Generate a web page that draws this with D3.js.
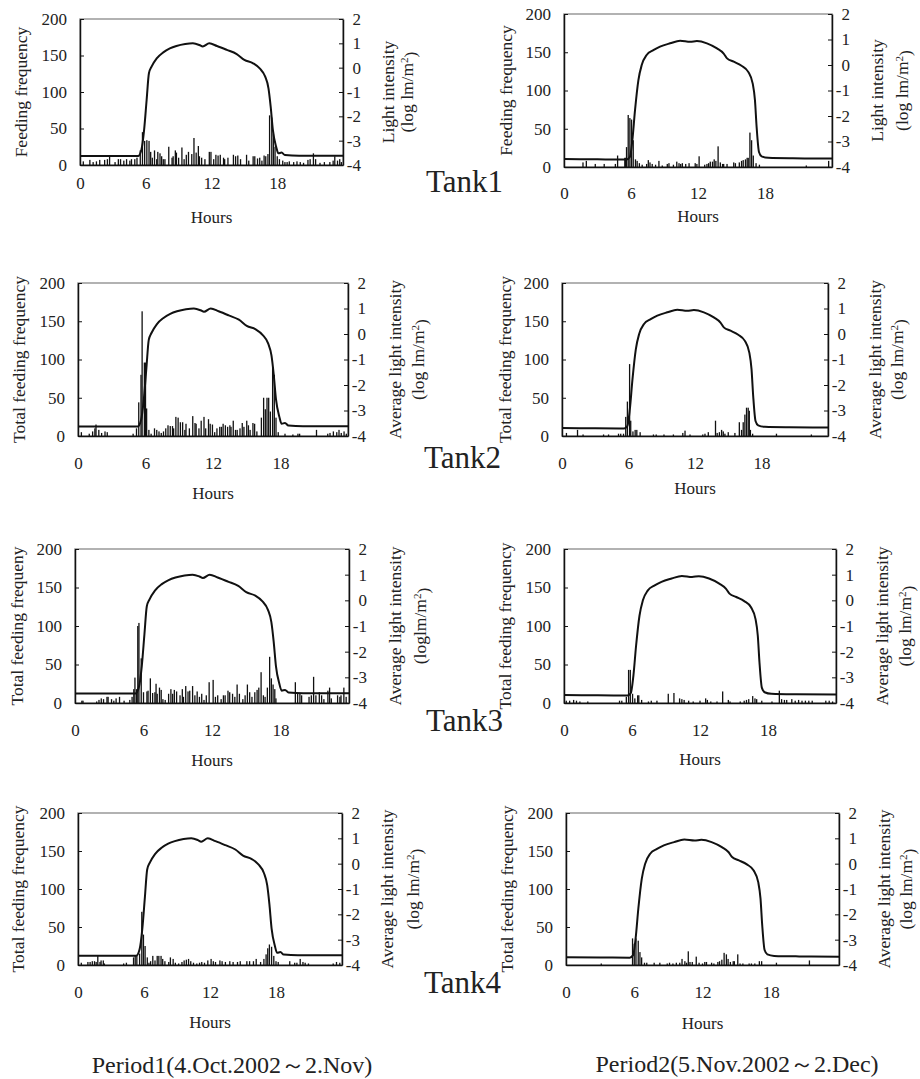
<!DOCTYPE html>
<html>
<head>
<meta charset="utf-8">
<script src="https://cdnjs.cloudflare.com/ajax/libs/d3/7.8.5/d3.min.js"></script>
<style>
body{margin:0;background:#fff;}
text{font-family:"Liberation Serif","Times New Roman",serif;fill:#222;}
</style>
</head>
<body>
<div id="chart"></div>
<script>
// ---- data ----
var periods = ["Period1(4.Oct.2002\uFF5E2.Nov)", "Period2(5.Nov.2002\uFF5E2.Dec)"];
var tanks = ["Tank1", "Tank2", "Tank3", "Tank4"];
var xTicks = [0, 6, 12, 18];
var leftTicks = [0, 50, 100, 150, 200];
var rightTicks = [-4, -3, -2, -1, 0, 1, 2];

// left axis titles, panel order: P1T1, P2T1, P1T2, P2T2, ...
var leftTitles = ["Feeding frequency", "Feeding frequency",
  "Total feeding frequency", "Total feeding frequency",
  "Total feeding frequeny", "Total feeding frequency",
  "Total feeding frequency", "Total feeding frequency"];
var rightTitles = ["Light intensity", "Light intensity",
  "Average light intensity", "Average light intensity",
  "Average light intensity", "Average light intensity",
  "Average light intensity", "Average light intensity"];
var unitTitles = ["(log lm/m", "(log lm/m", "(log lm/m", "(log lm/m",
  "(loglm/m", "(log lm/m", "(log lm/m", "(log lm/m"];

// light intensity (log lm/m2) [hour, value]
var light1 = [[0,-3.63],[5.3,-3.63],[5.6,-3.38],[5.85,-2.56],[6.08,-1.33],[6.29,-0.23],[6.53,0.04],
  [7.0,0.38],[7.6,0.63],[8.2,0.79],[8.8,0.89],[9.6,0.97],[10.3,1.0],[10.9,0.93],[11.2,0.87],
  [11.8,1.0],[12.5,0.89],[13.4,0.73],[14.3,0.56],[15.0,0.32],[15.8,0.18],[16.4,-0.03],[16.9,-0.37],
  [17.2,-0.85],[17.4,-1.6],[17.6,-2.56],[17.9,-3.25],[18.1,-3.52],[18.4,-3.49],[18.7,-3.59],
  [20,-3.62],[24,-3.62]];
var light2 = [[0,-3.69],[3,-3.70],[5.6,-3.71],[5.9,-3.61],[6.12,-2.95],[6.36,-1.77],[6.66,-0.6],
  [6.96,0.0],[7.4,0.39],[8.0,0.58],[8.6,0.72],[9.5,0.85],[10.4,0.95],[11.3,0.91],[11.9,0.94],
  [12.8,0.85],[13.7,0.65],[14.3,0.45],[14.6,0.26],[15.2,0.13],[15.9,-0.03],[16.5,-0.27],
  [16.9,-0.73],[17.1,-1.38],[17.25,-2.43],[17.46,-3.41],[17.7,-3.58],[18.3,-3.64],[20.5,-3.66],
  [24,-3.67]];

// feeding frequency per 10 min [hour, count]
var feedP1T1 = [[0.3,5],[0.9,7],[1.2,4],[1.5,5],[1.8,7],[2.25,7],[2.5,8],[2.7,12],[3.2,4],[3.5,8],
  [3.7,8],[4.0,6],[4.25,8],[4.55,6],[4.7,8],[5.0,8],[5.2,10],[5.5,20],[5.7,45],[5.9,33],[6.1,34],
  [6.3,33],[6.45,18],[6.6,10],[6.8,20],[7.0,8],[7.1,18],[7.3,16],[7.45,12],[7.6,8],[7.75,8],[8.1,25],
  [8.4,10],[8.5,12],[8.7,20],[8.8,17],[9.0,10],[9.3,24],[9.5,8],[9.7,14],[9.9,18],[10.2,15],[10.4,37],
  [10.6,17],[10.8,26],[10.9,12],[11.1,10],[11.4,8],[11.8,18],[11.95,18],[12.2,8],[12.4,14],[12.6,13],
  [12.8,14],[13.1,10],[13.2,8],[13.5,10],[14.0,14],[14.2,12],[14.4,13],[14.65,8],[15.2,14],[15.4,6],
  [15.8,12],[15.95,12],[16.2,9],[16.4,10],[16.6,6],[16.8,13],[16.95,12],[17.15,15],[17.3,68],[17.5,65],
  [17.65,42],[17.8,25],[18.0,12],[18.2,8],[18.5,6],[18.7,4],[18.9,4],[19.1,5],[19.5,4],[19.8,5],
  [20.1,4],[20.4,3],[20.8,7],[21.0,8],[21.3,16],[21.5,8],[21.9,3],[22.3,4],[22.8,4],[23.1,6],
  [23.25,12],[23.5,6],[23.7,8],[23.85,4]];
var feedP2T1 = [[1.7,6],[2.0,8],[2.8,4],[3.6,4],[4.6,4],[4.8,15],[5.45,12],[5.5,12],[5.6,26],[5.75,68],
  [5.9,64],[6.05,62],[6.2,35],[6.4,10],[6.55,8],[6.75,5],[7.0,3],[7.4,4],[7.55,9],[7.7,6],[7.9,4],
  [8.2,3],[8.5,8],[8.8,2],[9.25,4],[9.4,5],[9.8,3],[10.1,7],[10.3,5],[10.45,4],[10.6,5],[10.9,4],
  [11.2,5],[11.75,5],[11.9,4],[12.1,14],[12.6,3],[12.8,4],[12.95,5],[13.1,7],[13.3,7],[13.45,10],
  [13.6,8],[13.8,27],[14.0,6],[14.2,4],[14.3,4],[14.6,4],[15.2,6],[15.35,5],[15.7,6],[15.9,8],
  [16.05,9],[16.25,10],[16.4,12],[16.5,12],[16.65,45],[16.8,35],[16.95,15],[17.2,5],[17.5,3],
  [21.7,2],[23.7,8]];
var feedP1T2 = [[0.3,5],[1.0,3],[1.3,6],[1.5,10],[1.6,15],[1.85,8],[2.1,4],[2.4,6],[2.6,5],[4.9,3],
  [5.2,10],[5.4,44],[5.6,80],[5.7,163],[5.9,96],[6.0,96],[6.1,36],[6.3,8],[6.5,3],[6.8,10],[7.0,8],
  [7.2,6],[7.4,4],[7.6,6],[7.8,10],[8.0,14],[8.2,13],[8.4,13],[8.5,10],[8.7,25],[8.9,24],[9.1,18],
  [9.3,18],[9.5,8],[9.6,16],[9.9,10],[10.2,26],[10.4,17],[10.5,16],[10.75,10],[10.95,20],[11.2,25],
  [11.35,10],[11.6,22],[11.75,16],[11.95,15],[12.15,5],[12.35,10],[12.6,12],[12.75,12],[12.9,16],
  [13.1,14],[13.3,12],[13.5,14],[13.6,12],[13.8,20],[14.0,8],[14.15,8],[14.4,10],[14.6,17],
  [14.75,12],[15.0,20],[15.15,14],[15.3,8],[15.55,17],[15.7,16],[15.9,6],[16.3,24],[16.5,50],
  [16.65,35],[16.8,50],[16.95,50],[17.1,32],[17.3,90],[17.45,80],[17.6,24],[17.8,5],[18.4,3],
  [19.1,2],[19.55,3],[19.7,3],[21.2,8],[22.2,3],[22.4,4],[22.7,6],[23.0,5],[23.2,8],[23.4,4],
  [23.65,6],[23.85,3]];
var feedP2T2 = [[0.4,4],[1.4,8],[1.9,2],[3.75,2],[4.2,2],[5.1,3],[5.3,3],[5.55,3],[5.75,25],[5.9,45],
  [6.1,94],[6.2,20],[6.4,6],[6.6,8],[6.75,8],[7.05,5],[8.25,2],[8.5,2],[9.2,2],[10.05,2],[10.9,4],
  [11.1,7],[11.55,2],[12.7,2],[12.9,3],[13.2,5],[13.85,20],[14.0,4],[14.2,5],[14.4,8],[14.55,6],
  [14.7,3],[15.0,5],[15.6,4],[16.0,18],[16.2,8],[16.35,18],[16.5,28],[16.65,37],[16.8,37],[16.9,33],
  [17.0,8],[17.2,3],[19.35,3],[22.5,2]];
var feedP1T3 = [[0.6,3],[0.7,3],[1.9,2],[2.1,4],[2.3,6],[2.5,5],[2.8,8],[2.9,8],[3.2,5],[3.4,3],
  [3.6,6],[3.9,8],[4.3,3],[4.8,4],[5.0,8],[5.15,18],[5.25,33],[5.4,18],[5.5,100],[5.6,104],[5.8,58],
  [6.0,14],[6.3,15],[6.4,16],[6.6,32],[6.8,13],[7.0,14],[7.1,25],[7.2,12],[7.4,20],[7.55,17],[7.7,5],
  [7.9,4],[8.2,12],[8.4,18],[8.55,12],[8.7,17],[8.9,15],[9.2,10],[9.4,18],[9.5,8],[9.7,22],[9.9,15],
  [10.05,16],[10.3,22],[10.5,10],[10.7,15],[10.9,8],[11.1,12],[11.3,4],[11.5,10],[11.75,27],
  [12.1,30],[12.3,8],[12.5,10],[12.8,5],[13.0,10],[13.15,10],[13.4,16],[13.55,14],[13.8,12],
  [14.0,8],[14.2,24],[14.4,12],[14.7,5],[14.9,10],[15.1,24],[15.3,14],[15.5,8],[15.75,14],[15.95,17],
  [16.1,20],[16.3,40],[16.5,10],[16.65,8],[16.85,20],[17.05,60],[17.2,32],[17.35,24],[17.5,18],
  [17.6,6],[19.3,27],[19.5,12],[19.7,12],[19.85,10],[20.5,8],[20.7,10],[20.9,34],[21.1,10],[21.4,14],
  [21.6,10],[21.8,5],[22.15,16],[22.3,20],[22.45,6],[23.0,10],[23.2,8],[23.3,10],[23.55,20],[23.75,8]];
var feedP2T3 = [[0.2,3],[0.5,3],[0.85,4],[1.1,3],[1.4,2],[2.1,2],[4.9,3],[5.1,3],[5.5,8],[5.7,43],
  [5.85,43],[6.05,12],[6.25,6],[6.5,10],[6.6,10],[6.85,4],[7.45,2],[7.7,3],[8.2,3],[9.2,12],[9.7,13],
  [10.2,6],[10.4,5],[10.6,4],[11.0,3],[11.4,2],[12.0,3],[12.5,6],[12.65,4],[12.95,2],[13.5,2],
  [14.0,15],[14.5,4],[14.65,2],[15.55,2],[15.9,3],[16.1,4],[16.3,5],[16.65,9],[16.85,6],[17.0,5],
  [17.45,3],[18.35,2],[19.0,16],[19.2,5],[19.45,4],[19.65,4],[20.1,5],[20.4,3],[20.7,4],[21.0,3],
  [21.3,3],[21.6,3],[21.9,3],[23.1,3],[23.4,3],[23.7,2]];
var feedP1T4 = [[0.3,3],[0.9,4],[1.1,4],[1.3,5],[1.5,5],[1.65,4],[1.8,12],[2.0,4],[2.1,6],[2.3,6],
  [2.4,2],[4.15,2],[4.4,3],[5.05,10],[5.2,12],[5.35,12],[5.6,15],[5.8,70],[5.95,40],[6.1,25],[6.3,10],
  [6.45,3],[6.6,5],[6.8,12],[7.0,6],[7.2,12],[7.35,12],[7.55,12],[7.7,8],[7.9,5],[8.25,4],[8.4,10],
  [8.65,8],[8.85,3],[9.15,2],[9.45,4],[9.65,6],[9.85,7],[10.05,8],[10.25,5],[10.5,3],[10.8,2],
  [11.05,3],[11.25,4],[11.5,3],[11.8,6],[12.1,8],[12.3,5],[12.5,4],[12.9,6],[13.1,5],[13.4,4],
  [13.8,5],[14.1,4],[14.5,4],[14.75,5],[15.35,5],[15.6,5],[15.95,5],[16.2,8],[16.6,4],[16.9,8],
  [17.1,14],[17.25,22],[17.4,27],[17.6,24],[17.8,12],[18.0,5],[18.2,4],[19.25,5],[19.7,3],[19.9,3],
  [20.2,8],[20.45,4],[20.65,3],[20.95,2],[23.2,2],[23.5,4],[23.8,3]];
var feedP2T4 = [[3.1,2],[5.85,35],[6.0,28],[6.15,35],[6.35,32],[6.5,17],[6.65,10],[6.9,3],[7.1,3],
  [7.75,3],[8.25,3],[8.9,2],[9.1,3],[9.4,2],[9.7,3],[10.0,3],[10.2,8],[10.45,5],[10.6,3],[10.75,18],
  [10.9,4],[11.1,4],[11.45,11],[11.7,3],[12.0,2],[12.2,4],[12.35,4],[12.8,3],[13.0,2],[13.35,4],
  [13.5,5],[13.7,7],[13.9,16],[14.1,14],[14.25,8],[14.45,4],[14.7,5],[14.8,5],[15.1,14],[15.3,2],
  [15.55,2],[16.1,2],[16.3,2],[16.6,2],[17.0,5],[17.2,5],[18.5,3],[21.4,6]];

var feeds = [feedP1T1, feedP2T1, feedP1T2, feedP2T2, feedP1T3, feedP2T3, feedP1T4, feedP2T4];
var lights = [light1, light2];

// ---- layout (pixel boxes of each plot) ----
var layout = [
  {l:80, r:343, t:19, b:165, xt:183, hy:217, yl:21, r1:388, r2:407},
  {l:564, r:832, t:14, b:167, xt:193, hy:216, yl:506, r1:877, r2:902},
  {l:78, r:348, t:283, b:436, xt:463, hy:493, yl:19, r1:395, r2:418},
  {l:562, r:828, t:283, b:436, xt:463, hy:488, yl:505, r1:875, r2:897},
  {l:75, r:349, t:549, b:703, xt:730, hy:760, yl:17, r1:395, r2:420},
  {l:564, r:836, t:549, b:703, xt:730, hy:759, yl:505, r1:882, r2:905},
  {l:78, r:342, t:813, b:965, xt:992, hy:1022, yl:18, r1:387, r2:413},
  {l:566, r:839, t:813, b:965, xt:992, hy:1023, yl:507, r1:884, r2:906}
];
var tankPos = [{x:426, y:192}, {x:424, y:468}, {x:426, y:731}, {x:424, y:993}];
var periodPos = [{x:232, y:1073}, {x:737, y:1072}];
var serif = "'Liberation Serif', 'Times New Roman', serif";

var w = 920, h = 1079;
var svg = d3.select("#chart")
  .append("svg")
  .attr("width", w)
  .attr("height", h);

feeds.forEach(function(feed, i){
  var L = layout[i];
  var light = lights[i % 2];
  var xScale = d3.scaleLinear().domain([0, 24]).range([L.l, L.r]);
  var yScale = d3.scaleLinear().domain([0, 200]).range([L.b, L.t]);
  var lightScale = d3.scaleLinear().domain([-4, 2]).range([L.b, L.t]);
  var g = svg.append("g");

  // grey plot frame (top edge stays grey)
  g.append("rect")
    .attr("x", L.l).attr("y", L.t)
    .attr("width", L.r - L.l).attr("height", L.b - L.t)
    .attr("fill", "none")
    .attr("stroke", "#999")
    .attr("stroke-width", 1.5);

  // feeding bars
  g.selectAll(".bar")
    .data(feed)
    .enter()
    .append("rect")
    .attr("class", "bar")
    .attr("x", (d)=>xScale(d[0]) - 0.65)
    .attr("y", (d)=>yScale(d[1]))
    .attr("width", 1.3)
    .attr("height", (d)=>L.b - yScale(d[1]))
    .attr("fill", "#111");

  // light curve
  var line = d3.line()
    .x((d)=>xScale(d[0]))
    .y((d)=>lightScale(d[1]))
    .curve(d3.curveMonotoneX);
  g.append("path")
    .datum(light)
    .attr("d", line)
    .attr("fill", "none")
    .attr("stroke", "#111")
    .attr("stroke-width", 2);

  // axes, ticks point inward
  var yAxis = d3.axisLeft(yScale).tickValues(leftTicks).tickSizeInner(-4).tickSizeOuter(0).tickPadding(13);
  var rAxis = d3.axisRight(lightScale).tickValues(rightTicks).tickSizeInner(-4).tickSizeOuter(0).tickPadding(18)
    .tickFormat((d)=>String(d));
  var xAxis = d3.axisBottom(xScale).tickValues(xTicks).tickSize(0).tickPadding(L.xt - L.b - 6);

  [[yAxis, "translate(" + L.l + ",0)"], [rAxis, "translate(" + L.r + ",0)"], [xAxis, "translate(0," + L.b + ")"]]
    .forEach(function(a, k){
      var ax = g.append("g")
        .attr("class", "axis")
        .attr("transform", a[1])
        .call(a[0])
        .attr("font-family", serif);
      ax.select(".domain").attr("stroke", "#111").attr("stroke-width", 1.5);
      ax.selectAll(".tick line").attr("stroke", "#111");
      ax.selectAll("text")
        .style("font-size", "17px")
        .attr("fill", "#222");
      if(k == 1) ax.selectAll("text").attr("text-anchor", "end");
    });

  g.append("text")
    .attr("x", (L.l + L.r) / 2)
    .attr("y", L.hy)
    .attr("dy", "0.35em")
    .attr("text-anchor", "middle")
    .style("font-size", "17px")
    .text("Hours");

  var midY = (L.t + L.b) / 2;
  g.append("text")
    .attr("transform", "translate(" + L.yl + "," + midY + ") rotate(-90)")
    .attr("dy", "0.35em")
    .attr("text-anchor", "middle")
    .style("font-size", "17.5px")
    .text(leftTitles[i]);
  g.append("text")
    .attr("transform", "translate(" + L.r1 + "," + midY + ") rotate(-90)")
    .attr("dy", "0.35em")
    .attr("text-anchor", "middle")
    .style("font-size", "17.5px")
    .text(rightTitles[i]);
  var unit = g.append("text")
    .attr("transform", "translate(" + L.r2 + "," + midY + ") rotate(-90)")
    .attr("dy", "0.35em")
    .attr("text-anchor", "middle")
    .style("font-size", "17.5px");
  unit.append("tspan").text(unitTitles[i]);
  unit.append("tspan").attr("dy", "-0.45em").style("font-size", "11px").text("2");
  unit.append("tspan").attr("dy", "0.45em").text(")");
});

// tank names between the columns
svg.selectAll(".tank")
  .data(tanks)
  .enter()
  .append("text")
  .attr("class", "tank")
  .attr("x", (d, k)=>tankPos[k].x)
  .attr("y", (d, k)=>tankPos[k].y)
  .style("font-size", "31px")
  .text((d)=>d);

// period captions under each column
svg.selectAll(".period")
  .data(periods)
  .enter()
  .append("text")
  .attr("class", "period")
  .attr("x", (d, k)=>periodPos[k].x)
  .attr("y", (d, k)=>periodPos[k].y)
  .attr("text-anchor", "middle")
  .style("font-size", "24px")
  .text((d)=>d);

// force the serif face on every label
svg.selectAll("text").style("font-family", serif);
</script>
</body>
</html>
